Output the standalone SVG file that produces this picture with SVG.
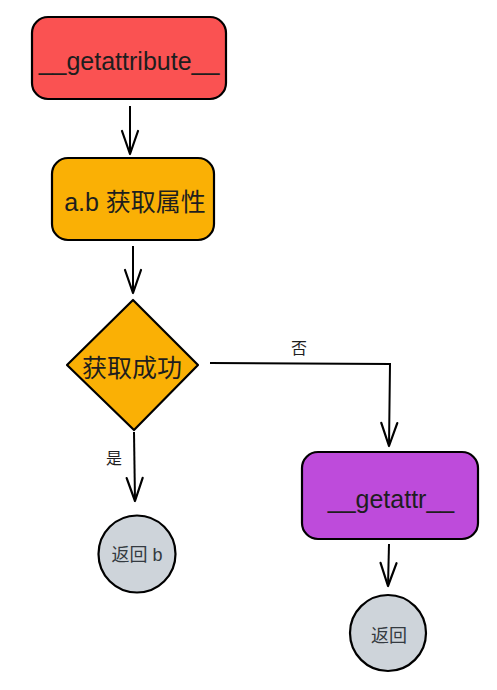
<svg xmlns="http://www.w3.org/2000/svg" width="497" height="690" viewBox="0 0 497 690">
<style>
.box{stroke:#000;stroke-width:2.2;stroke-linejoin:round}
.t{font-family:"Liberation Sans","Noto Sans CJK SC",sans-serif;fill:#1e1e1e;text-anchor:middle;dominant-baseline:central}
.c{stroke:#000;stroke-width:2;fill:none}
.lbl{font-family:"Noto Sans CJK SC","Liberation Sans",sans-serif;font-size:16px;fill:#1e1e1e;text-anchor:middle;dominant-baseline:central}
</style>
<defs>
<marker id="ah" markerUnits="userSpaceOnUse" markerWidth="30" markerHeight="30" refX="26" refY="15" orient="auto">
<path d="M3,7 L26,15 L3,23" fill="none" stroke="#000" stroke-width="2.2" stroke-linecap="round" stroke-linejoin="round"/>
</marker>
</defs>
<g id="connectors">
<path class="c" d="M130,106 L130,154" marker-end="url(#ah)"/>
<path class="c" d="M133,246 L133,293" marker-end="url(#ah)"/>
<path class="c" d="M210,363 L390,364 L389,446" marker-end="url(#ah)"/>
<path class="c" d="M134,432 L135,501" marker-end="url(#ah)"/>
<path class="c" d="M389,544 L388,586" marker-end="url(#ah)"/>
<text class="lbl" x="299" y="347">否</text>
<text class="lbl" x="114" y="457">是</text>
</g>
<g id="getattribute">
<rect class="box" x="32" y="17" width="194" height="82" rx="16" fill="#fa5252"/>
<text class="t" x="129" y="61" font-size="25">__getattribute__</text>
</g>
<g id="get-attr">
<rect class="box" x="52" y="158" width="162" height="82" rx="16" fill="#fab005"/>
<text class="t" x="135" y="202" font-size="25">a.b 获取属性</text>
</g>
<g id="success">
<path class="box" d="M133,300 L198,365 L134,430 L67,365 Z" fill="#fab005"/>
<text class="t" x="132" y="368" font-size="25">获取成功</text>
</g>
<g id="return-b">
<circle class="box" cx="137" cy="554" r="38.5" fill="#ced4da"/>
<text class="t" x="137" y="555" font-size="18" style="fill:#343a40">返回 b</text>
</g>
<g id="getattr">
<rect class="box" x="302" y="452" width="176" height="87" rx="16" fill="#be4bdb"/>
<text class="t" x="391" y="499" font-size="25">__getattr__</text>
</g>
<g id="return">
<circle class="box" cx="388" cy="633" r="38" fill="#ced4da"/>
<text class="t" x="389" y="636" font-size="18" style="fill:#343a40">返回</text>
</g>
</svg>
